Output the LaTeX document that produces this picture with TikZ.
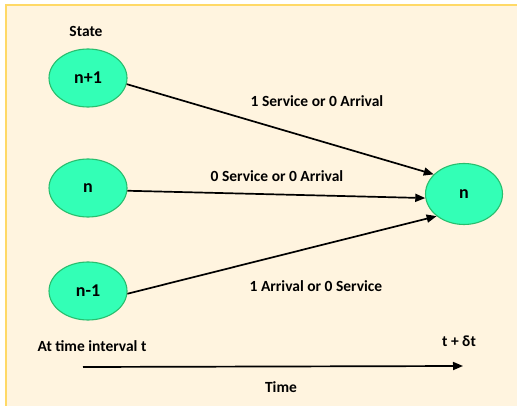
\documentclass[tikz,border=0pt]{standalone}
\usepackage{fontspec}
\setmainfont{Carlito}
\usetikzlibrary{shapes.geometric,arrows.meta}
\definecolor{paper}{RGB}{255,244,223}
\definecolor{frame}{RGB}{255,217,102}
\definecolor{statefill}{RGB}{51,255,182}
\definecolor{stateedge}{RGB}{40,190,110}
\tikzset{
  state/.style={ellipse, draw=stateedge, fill=statefill, line width=1.1pt,
    minimum width=78pt, minimum height=58pt, inner sep=0pt,
    font=\bfseries\fontsize{18}{20}\selectfont},
  lbl/.style={font=\bfseries\fontsize{15.5}{18}\selectfont, inner sep=0pt},
  trans/.style={line width=1.7pt, -{Triangle[length=10pt,width=8pt]}},
}
\begin{document}
\begin{tikzpicture}[x=1pt,y=-1pt]
  \useasboundingbox (0,0) rectangle (517,406);
  % page background with a gold edge along top and left
  \fill[paper] (6,5) rectangle (517,406);
  \draw[frame, line width=2.2pt] (6,406) -- (6,5) -- (517,5);

  % states at time t
  \node[lbl] (hdr) at (86,31) {State};
  \node[state] (up)  at (88,78)  {n+1};
  \node[state] (mid) at (88,188) {n};
  \node[state] (low) at (88,291) {n-1};

  % state at time t + dt
  \node[state, minimum width=77pt, minimum height=61pt] (dst) at (464,194) {n};

  % transitions
  \draw[trans] (up.351)  -- (dst.147);
  \draw[trans] (mid.356) -- (dst.186);
  \draw[trans] (low.356) -- (dst.219);

  \node[lbl] (l1) at (317,101) {1 Service or 0 Arrival};
  \node[lbl] (l2) at (277,176) {0 Service or 0 Arrival};
  \node[lbl] (l3) at (316,286) {1 Arrival or 0 Service};

  % time axis
  \node[lbl] (t0) at (92,346) {At time interval t};
  \node[lbl] (t1) at (459,341) {t + δt};
  \coordinate (ax0) at (83,367);
  \coordinate (ax1) at (463,366);
  \draw[line width=1.7pt, -{Triangle[length=10pt,width=8pt]}] (ax0) -- (ax1);
  \node[lbl] (tl) at (281,387) {Time};
\end{tikzpicture}
\end{document}
